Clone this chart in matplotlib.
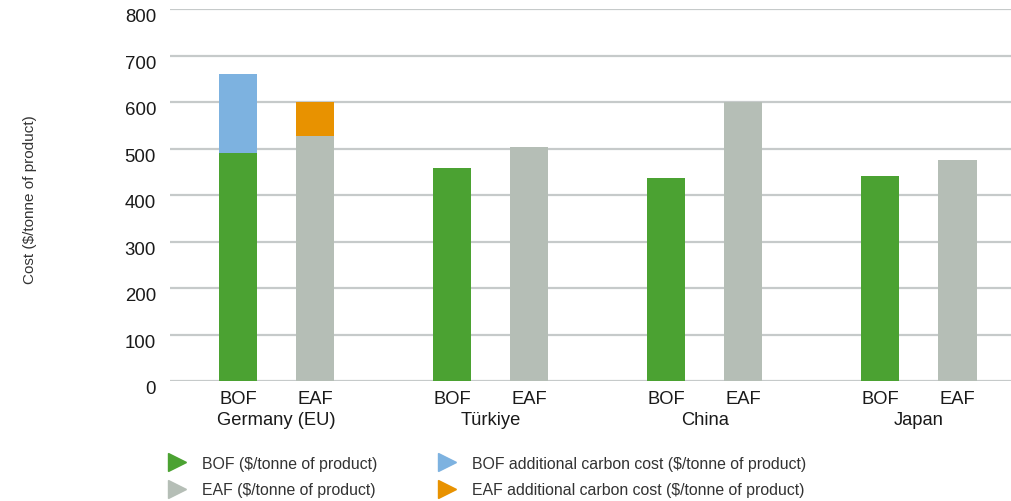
import numpy as np
import matplotlib.pyplot as plt
import matplotlib.transforms as mtransforms
from matplotlib.lines import Line2D

countries = ["Germany (EU)", "Türkiye", "China", "Japan"]
bof_cost = [490, 457, 436, 440]
eaf_cost = [527, 504, 601, 476]
bof_carbon = [170, 0, 0, 0]
eaf_carbon = [73, 0, 0, 0]
yticks = [0, 100, 200, 300, 400, 500, 600, 700, 800]

GREEN = "#4ba232"
GREY = "#b5beb6"
BLUE = "#7db2e0"
ORANGE = "#e89200"
TXT = "#1a1a1a"

plt.rcParams['font.family'] = ['Liberation Sans', 'DejaVu Sans']

W, H = 1011, 501
fig = plt.figure(figsize=(W / 100, H / 100), dpi=100)
ax = fig.add_axes([170 / W, 1 - 381 / H, 1 - 170 / W, 372 / H])

x = np.arange(len(countries))
off = 0.18
w = 0.178
ax.bar(x - off, bof_cost, w, color=GREEN, zorder=3)
ax.bar(x - off, bof_carbon, w, bottom=bof_cost, color=BLUE, zorder=3)
ax.bar(x + off, eaf_cost, w, color=GREY, zorder=3)
ax.bar(x + off, eaf_carbon, w, bottom=eaf_cost, color=ORANGE, zorder=3)

ax.set_xlim(-0.498, 3.43)
ax.set_ylim(0, 800)
ax.set_yticks(yticks)
ax.set_yticklabels([])
ax.yaxis.grid(True, color="#c6caca", linewidth=1.6, zorder=0)
ax.set_axisbelow(True)
ax.tick_params(axis='y', length=0)
for s in ax.spines.values():
    s.set_visible(False)

# y tick labels, sitting a little below their gridlines
ytrans = mtransforms.blended_transform_factory(ax.transAxes, ax.transData)
for v in yticks:
    t = ytrans + mtransforms.ScaledTranslation(-14 / 100, -13.2 / 100, fig.dpi_scale_trans)
    ax.text(0, v, str(v), transform=t, ha='right', va='baseline',
            fontsize=13.4, color=TXT)

ticks = np.sort(np.concatenate([x - off, x + off]))
ax.set_xticks(ticks)
ax.set_xticklabels(["BOF", "EAF"] * len(countries), fontsize=13.2, color=TXT)
ax.tick_params(axis='x', length=0, pad=7)

xtrans = ax.get_xaxis_transform()
for xi, c in zip(x, countries):
    t = xtrans + mtransforms.ScaledTranslation(0, -44 / 100, fig.dpi_scale_trans)
    ax.text(xi, 0, c, transform=t, ha='center', va='baseline',
            fontsize=13.2, color=TXT)

fig.text(30 / W, 1 - 200 / H, "Cost ($/tonne of product)", rotation=90,
         ha='center', va='center', fontsize=11, color="#333333")

# legend: two columns of triangle markers + labels
legend_items = [
    (GREEN, "BOF ($/tonne of product)"),
    (GREY, "EAF ($/tonne of product)"),
    (BLUE, "BOF additional carbon cost ($/tonne of product)"),
    (ORANGE, "EAF additional carbon cost ($/tonne of product)"),
]
col_x = [177, 447]
row_y = [462, 488.5]
for i, (col, lab) in enumerate(legend_items):
    cx = col_x[i // 2]
    cy = row_y[i % 2]
    fig.add_artist(Line2D([cx / W], [1 - cy / H], transform=fig.transFigure,
                          marker='>', markersize=12.5, color=col, linestyle='none'))
    fig.text((cx + 25) / W, 1 - (cy + 6.5) / H, lab, ha='left', va='baseline',
             fontsize=11.4, color="#333333")

fig.savefig("out.png", dpi=100)
